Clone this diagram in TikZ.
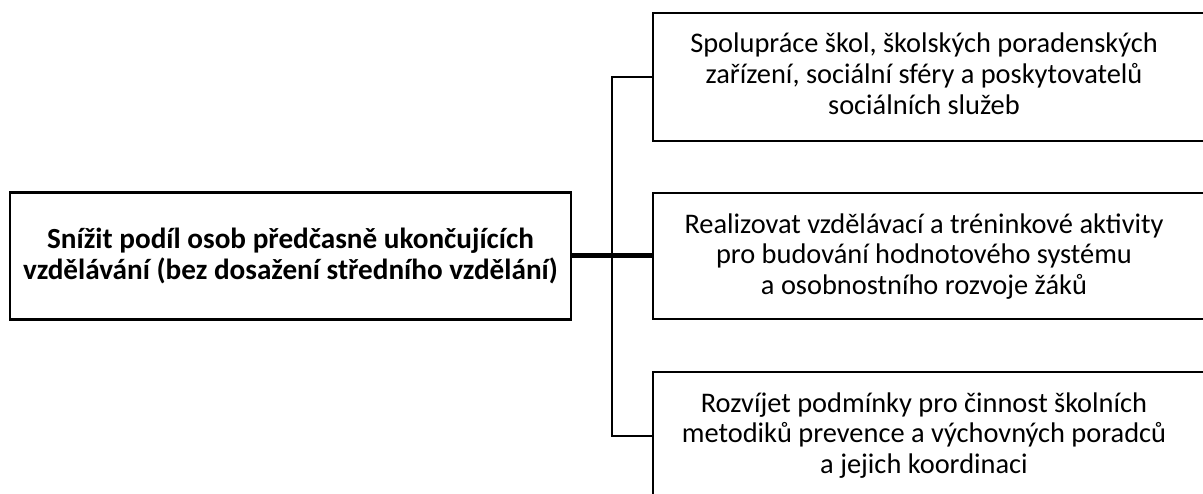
\documentclass[tikz,border=0pt]{standalone}
\usepackage{fontspec}
\setmainfont{Carlito}
\begin{document}
\begin{tikzpicture}[x=1pt,y=-1pt,
  box/.style={draw=black, line width=2.2pt, inner sep=0pt},
  boxtext/.style={align=center, inner sep=0pt,
    font=\fontsize{28.4}{30.8}\selectfont},
  thinline/.style={line width=2.2pt},
  thickline/.style={line width=5pt}]
\useasboundingbox (0,0) rectangle (1203,494);
\node[box, align=center, minimum width=561pt, minimum height=127pt,
  font=\fontsize{29.2}{31.5}\selectfont\bfseries] (goal) at (290.5,256)
  {Snížit podíl osob předčasně ukončujících\\vzdělávání (bez dosažení středního vzdělání)};
\node[box, minimum width=562pt, minimum height=128pt] (top) at (934,77) {};
\node[box, minimum width=562pt, minimum height=126pt] (mid) at (934,256) {};
\node[box, minimum width=562pt, minimum height=128pt] (bot) at (934,436) {};
\node[boxtext] (toptext) at (924,74)
  {Spolupráce škol, školských poradenských\\zařízení, sociální sféry a poskytovatelů\\sociálních služeb};
\node[boxtext] (midtext) at (924,256.5)
  {Realizovat vzdělávací a tréninkové aktivity\\pro budování hodnotového systému\\a osobnostního rozvoje žáků};
\node[boxtext] (bottext) at (924,435.5)
  {Rozvíjet podmínky pro činnost školních\\metodiků prevence a výchovných poradců\\a jejich koordinaci};
\coordinate (j) at (612,256);
\draw[thinline] (top.west) -| (j) |- (bot.west);
\draw[thickline] (goal.east) -- (mid.west);
\end{tikzpicture}
\end{document}
